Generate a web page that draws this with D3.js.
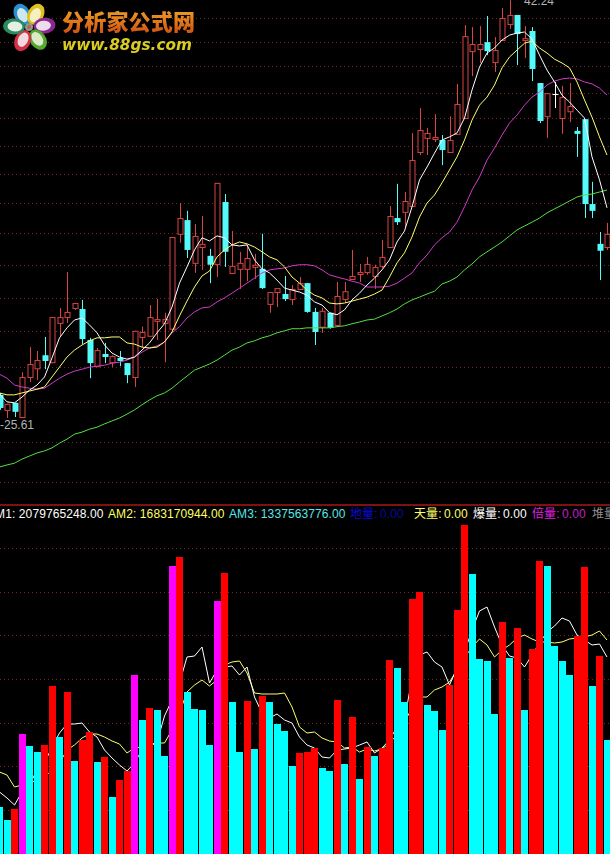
<!DOCTYPE html>
<html><head><meta charset="utf-8">
<script src="https://cdn.jsdelivr.net/npm/d3@7/dist/d3.min.js"></script>
<style>html,body{margin:0;padding:0;background:#000;overflow:hidden}svg{display:block}</style>
</head><body>
<script>
const open=[26.33,25.86,26.08,25.64,26.90,27.18,27.61,27.38,28.70,28.90,29.22,29.18,28.12,27.25,27.65,27.38,27.52,27.35,26.90,28.22,28.26,28.77,28.70,28.50,31.93,32.46,30.84,31.43,31.10,30.80,33.17,30.47,30.62,30.62,30.69,30.62,29.36,29.78,29.71,29.53,29.89,30.10,29.08,28.57,29.05,28.63,29.53,30.25,30.43,30.50,30.36,30.73,31.43,32.54,32.78,33.01,35.22,35.82,35.77,35.73,35.22,35.99,36.68,39.74,39.84,40.17,39.22,40.27,41.05,41.50,40.27,40.71,38.25,36.76,37.75,36.68,36.98,36.12,36.63,33.09,31.55,31.43];
const close=[25.92,26.05,25.80,26.90,27.32,27.45,27.42,28.90,28.90,29.08,29.39,28.15,27.35,27.78,27.55,27.58,27.42,26.96,28.43,28.39,28.90,28.83,28.83,31.81,32.54,31.32,31.85,31.55,30.77,33.94,31.25,30.73,30.84,31.02,30.77,29.92,29.78,29.92,29.53,29.89,30.10,29.08,28.39,29.12,28.53,29.64,29.81,30.36,30.50,30.80,30.69,31.06,32.62,32.38,33.21,34.88,36.16,36.03,35.86,35.30,35.73,37.30,40.46,40.08,40.08,39.74,39.79,41.35,41.50,40.56,40.36,38.90,36.55,37.79,37.75,37.61,37.21,35.99,33.09,32.82,31.29,31.93];
const high=[26.39,26.05,26.08,27.05,27.88,27.75,28.22,28.90,29.22,30.50,29.39,29.50,28.19,27.85,28.02,27.61,27.75,27.35,28.43,28.57,29.32,29.54,29.05,31.81,33.13,32.82,32.31,32.62,31.36,33.94,33.49,32.04,31.25,31.51,31.17,31.93,29.78,29.92,30.36,30.03,30.32,30.10,29.22,29.22,29.05,30.14,30.14,31.32,30.80,31.06,30.77,31.70,33.01,33.90,33.57,36.03,37.12,36.25,36.85,35.94,36.76,38.21,41.00,40.90,40.95,41.45,40.41,41.85,42.24,41.50,40.95,40.90,38.25,37.79,38.30,38.12,38.25,36.29,36.63,33.98,32.00,32.35];
const low=[25.86,25.61,25.64,25.61,26.74,26.80,27.15,27.35,28.22,28.70,29.15,27.98,26.86,27.22,27.35,27.22,27.25,26.70,26.58,27.88,28.26,28.12,27.38,28.36,31.59,31.02,30.47,30.58,30.10,30.32,30.69,30.47,29.89,30.17,30.25,29.89,29.05,29.25,29.46,29.32,29.89,29.05,27.95,28.36,28.50,28.57,29.39,30.25,30.14,30.40,29.89,30.65,31.43,32.27,32.16,33.01,35.09,35.09,35.64,34.67,35.22,35.99,36.68,38.57,39.18,39.55,38.76,40.27,40.81,39.08,39.41,38.34,36.46,35.82,37.12,35.99,36.50,35.01,32.54,32.54,30.21,31.32];
const ma5=[26.36,26.11,26.08,26.26,26.48,26.64,26.90,27.52,28.19,28.53,28.80,28.87,28.63,28.36,27.95,27.68,27.55,27.48,27.55,27.78,28.02,28.36,28.67,29.25,30.10,30.69,31.32,31.78,31.66,31.85,31.78,31.51,31.47,31.51,30.95,30.62,30.47,30.21,29.92,29.85,29.78,29.67,29.43,29.32,29.05,28.98,29.15,29.50,29.74,30.03,30.28,30.58,30.95,31.62,32.04,32.98,34.06,34.59,35.17,35.73,35.86,36.03,36.68,37.93,38.99,39.65,39.89,40.27,40.51,40.61,40.66,40.32,39.55,38.85,38.30,37.70,37.39,37.03,36.68,35.01,34.06,32.94];
const ma10=[26.39,26.33,26.33,26.39,26.45,26.51,26.58,26.90,27.22,27.55,27.78,27.95,28.09,28.19,28.19,28.22,28.22,28.02,27.98,27.88,27.85,27.88,28.05,28.39,28.94,29.46,29.96,30.36,30.54,31.06,31.32,31.51,31.62,31.55,31.43,31.25,31.06,30.95,30.69,30.32,30.10,29.85,29.67,29.57,29.39,29.36,29.39,29.46,29.53,29.60,29.71,29.85,30.32,30.84,31.21,31.81,32.58,33.13,33.45,33.94,34.47,35.01,35.73,36.59,37.25,37.61,38.16,38.95,39.46,39.79,40.12,40.22,39.89,39.65,39.36,39.18,38.95,38.30,37.48,36.72,35.86,35.09];
const ma30=[26.99,26.86,26.64,26.58,26.54,26.51,26.54,26.70,26.86,26.99,27.09,27.15,27.22,27.25,27.28,27.35,27.38,27.45,27.55,27.71,27.85,27.92,28.05,28.36,28.57,28.87,29.08,29.22,29.25,29.43,29.57,29.74,29.92,30.10,30.28,30.47,30.58,30.62,30.65,30.73,30.77,30.77,30.73,30.58,30.40,30.32,30.25,30.17,30.10,29.96,29.96,29.96,29.99,30.10,30.28,30.47,30.84,31.13,31.51,31.78,32.00,32.38,32.98,33.65,34.18,34.88,35.38,35.94,36.46,36.81,37.25,37.61,37.84,38.16,38.34,38.44,38.48,38.44,38.30,38.21,38.02,37.70];
const ma60=[24.15,24.21,24.26,24.38,24.47,24.56,24.62,24.71,24.85,24.97,25.12,25.18,25.27,25.33,25.43,25.52,25.61,25.73,25.86,26.02,26.17,26.30,26.39,26.54,26.74,26.93,27.12,27.22,27.32,27.45,27.61,27.78,27.88,28.02,28.09,28.19,28.26,28.36,28.43,28.50,28.50,28.53,28.53,28.53,28.53,28.57,28.60,28.67,28.73,28.80,28.83,28.94,29.05,29.18,29.36,29.50,29.60,29.71,29.81,30.07,30.17,30.32,30.58,30.80,31.06,31.25,31.43,31.62,31.85,32.08,32.23,32.38,32.54,32.74,32.90,33.05,33.21,33.37,33.45,33.49,33.57,33.65];
const priceGrid=[23.72,24.88,26.11,27.22,28.42,29.57,30.76,31.96,33.13,34.30,35.47,36.68,37.80,39.04,40.17,41.34];
const volume=[4.7,3.4,4.5,12.0,10.8,10.2,10.9,16.8,11.7,16.2,9.3,11.4,12.2,9.2,9.7,5.7,7.4,8.3,17.9,13.4,14.6,14.4,9.8,28.8,29.7,16.2,14.5,14.4,10.9,25.3,28.1,15.2,10.2,15.3,10.5,15.8,15.2,13.0,12.3,8.8,10.1,10.2,10.6,8.6,8.3,15.4,9.0,13.7,7.5,10.7,9.8,10.6,19.4,18.6,15.2,25.5,26.2,14.9,14.3,12.4,16.9,24.4,32.9,28.0,19.5,19.3,14.0,23.2,19.6,22.6,14.4,20.5,29.3,28.8,20.8,19.3,17.9,21.8,28.7,16.8,19.8,11.4];
const volumeKind=["c","c","r","m","c","c","r","r","c","r","c","r","r","c","r","c","r","r","m","c","r","c","c","m","r","c","c","c","c","m","r","c","c","r","c","r","c","c","c","c","r","r","r","c","c","r","c","r","c","r","c","r","r","c","c","r","r","c","c","c","r","r","r","c","c","c","c","r","c","r","c","r","r","c","c","c","c","r","r","c","r","c"];
const am1=[6.2,5.6,4.9,6.2,6.9,8.4,9.1,10.7,12.1,13.0,13.0,13.1,12.2,11.7,10.4,9.6,8.9,8.3,9.1,10.4,10.7,11.2,13.8,15.4,17.1,19.7,19.8,20.7,17.1,18.4,18.7,18.8,17.9,18.7,15.7,14.1,13.6,14.0,13.4,13.1,11.7,10.9,10.6,9.7,9.6,10.4,10.5,10.6,10.9,11.2,10.1,10.6,11.4,12.7,13.4,17.6,19.9,20.2,19.2,18.7,16.9,18.6,20.2,22.4,24.3,24.7,22.7,20.9,19.8,19.6,18.7,19.9,21.1,22.2,22.8,23.6,23.3,21.9,21.4,20.9,21.0,19.7];
const am2=[8.2,7.9,6.7,6.9,7.1,7.4,7.7,8.4,9.1,10.4,10.9,11.6,12.0,12.0,11.7,11.3,11.0,10.1,10.6,10.7,11.0,11.1,11.1,12.4,14.1,16.2,16.9,17.4,16.8,17.4,18.9,19.2,19.3,18.1,16.1,16.0,16.0,16.0,16.1,14.7,12.7,12.1,12.2,11.6,11.3,11.2,10.6,10.7,10.2,10.5,10.3,10.5,11.1,11.9,13.2,14.6,15.7,15.7,16.4,16.7,17.2,18.4,19.6,20.7,21.5,20.9,19.7,20.4,20.9,21.6,21.9,21.5,21.2,21.2,21.1,21.2,21.5,21.6,21.7,21.9,22.3,21.4];
const volumeGrid=[4.4,8.8,13.1,17.5,21.9,26.2,30.6];
const headerLabels=[
 {t:"AM1: 2079765248.00",x:-13,c:"#ffffff"},
 {t:"AM2: 1683170944.00",x:108,c:"#ffff66"},
 {t:"AM3: 1337563776.00",x:229,c:"#55e8e8"},
 {t:"地量:",x:350,c:"#0a0ad8"},{t:"0.00",x:380,c:"#08089a"},
 {t:"天量:",x:414,c:"#ffff66"},{t:"0.00",x:444,c:"#ffff66"},
 {t:"爆量:",x:473,c:"#ffffff"},{t:"0.00",x:503,c:"#ffffff"},
 {t:"倍量:",x:532,c:"#e020e0"},{t:"0.00",x:562,c:"#c020c0"},
 {t:"堆量",x:592,c:"#909090"}
];
const priceLabels=[{t:"-25.61",x:0,y:429},{t:"42.24",x:524,y:5}];

const W=610,H=854;
const svg=d3.select("body").append("svg").attr("width",W).attr("height",H).style("background","#000");
const idx=d3.range(open.length);
const x=d3.scaleBand().domain(idx).range([-4.25,610.75]);
const cx=i=>x(i)+x.bandwidth()/2;
const yP=d3.scaleLog().domain([25.61,42.25]).range([418,0]);
const yV=d3.scaleLinear().domain([0,35]).range([854,504]);

// grid
const gridColor="#6e2a22";
svg.append("g").selectAll("line").data(priceGrid).join("line")
  .attr("x1",0).attr("x2",W).attr("y1",d=>Math.round(yP(d))+.5).attr("y2",d=>Math.round(yP(d))+.5)
  .attr("stroke",gridColor).attr("stroke-dasharray","1 3");
svg.append("g").selectAll("line").data(volumeGrid).join("line")
  .attr("x1",0).attr("x2",W).attr("y1",d=>Math.round(yV(d))+.5).attr("y2",d=>Math.round(yV(d))+.5)
  .attr("stroke",gridColor).attr("stroke-dasharray","1 3");
svg.append("line").attr("x1",0).attr("x2",W).attr("y1",505).attr("y2",505).attr("stroke","#a81818").attr("stroke-width",1.5);

// candles
const red="#d94444",cyan="#55fbfb";
const col=i=>close[i]>open[i]?red:(close[i]<open[i]?cyan:"#ffffff");
const snap=v=>Math.round(v);
const cg=svg.append("g");
cg.selectAll("line").data(idx).join("line")
  .attr("x1",i=>snap(cx(i))+.5).attr("x2",i=>snap(cx(i))+.5)
  .attr("y1",i=>yP(high[i])).attr("y2",i=>yP(low[i]))
  .attr("stroke",col);
cg.selectAll("rect").data(idx).join("rect")
  .attr("x",i=>snap(cx(i))-2+(close[i]>open[i]?0:-.5))
  .attr("width",i=>close[i]>open[i]?5:6)
  .attr("y",i=>yP(Math.max(open[i],close[i]))+(close[i]>open[i]?.5:0))
  .attr("height",i=>Math.max(1,Math.abs(yP(open[i])-yP(close[i]))))
  .attr("fill",i=>close[i]>open[i]?"#000":col(i))
  .attr("stroke",i=>close[i]>open[i]?red:"none");

// moving averages
const priceLine=d3.line().x((d,i)=>cx(i)).y(d=>yP(d));
[[ma60,"#55dd44"],[ma30,"#d03cc8"],[ma10,"#ffff70"],[ma5,"#ffffff"]].forEach(([s,c])=>{
  svg.append("path").attr("d",priceLine(s)).attr("fill","none").attr("stroke",c).attr("stroke-width",1);
});

// volume lines below bars
const volLine=d3.line().x((d,i)=>cx(i)).y(d=>yV(d));
[[am2,"#ffff70"],[am1,"#ffffff"]].forEach(([s,c])=>{
  svg.append("path").attr("d",volLine(s)).attr("fill","none").attr("stroke",c).attr("stroke-width",1);
});
const kindColor={r:"#ff0000",c:"#00ffff",m:"#ff00ff"};
svg.append("g").selectAll("rect").data(idx).join("rect")
  .attr("x",i=>Math.round(cx(i)-3.5)).attr("width",7)
  .attr("y",i=>yV(volume[i])).attr("height",i=>yV(0)-yV(volume[i]))
  .attr("fill",i=>kindColor[volumeKind[i]]);

// header
const font="'Liberation Sans',Arial,'Noto Sans CJK SC',sans-serif";
svg.append("g").selectAll("text").data(headerLabels).join("text")
  .attr("x",d=>d.x).attr("y",518).text(d=>d.t).attr("fill",d=>d.c)
  .attr("font-family",font).attr("font-size",12).attr("letter-spacing",.1);
svg.append("g").selectAll("text").data(priceLabels).join("text")
  .attr("x",d=>d.x).attr("y",d=>d.y).text(d=>d.t).attr("fill","#b4b4b4")
  .attr("font-family",font).attr("font-size",12);

// logo
const defs=svg.append("defs");
const grad=defs.append("linearGradient").attr("id","lg").attr("x1",0).attr("x2",0).attr("y1",0).attr("y2",1);
grad.append("stop").attr("offset","0%").attr("stop-color","#f2b02a");
grad.append("stop").attr("offset","100%").attr("stop-color","#cf4a12");
defs.append("filter").attr("id","soft").append("feGaussianBlur").attr("stdDeviation",.45);
const petals=[
 {a:-28,c:"#2a8fd0",i:"#cfe8f0",d:14.5},
 {a:28,c:"#e0c020",i:"#f4f0c0",d:14.5},
 {a:85,c:"#8a2a90",i:"#ecdcec",d:15.5},
 {a:145,c:"#55a830",i:"#dcecc8",d:15.5},
 {a:205,c:"#d03048",i:"#f4d8dc",d:15},
 {a:272,c:"#2a8a60",i:"#e4f0e4",d:15}
];
const logo=svg.append("g").attr("transform","translate(29,27)").attr("filter","url(#soft)");
petals.forEach(p=>{
  const g=logo.append("g").attr("transform",`rotate(${p.a}) translate(0,${-p.d})`);
  g.append("ellipse").attr("rx",8).attr("ry",11).attr("fill",p.c);
  g.append("ellipse").attr("rx",5).attr("ry",7.5).attr("cy",1).attr("fill",p.i);
});
logo.append("circle").attr("r",4).attr("fill","#8a9a90");
logo.append("circle").attr("r",1.8).attr("fill","#c85a30");
svg.append("text").attr("x",62).attr("y",30).text("分析家公式网")
  .attr("fill","url(#lg)").attr("font-family","'Noto Sans CJK SC'").attr("font-weight",900)
  .attr("font-size",22).attr("textLength",133).attr("filter","url(#soft)");
svg.append("text").attr("x",62).attr("y",50).text("www.88gs.com")
  .attr("fill","#d8cc22").attr("font-family","'DejaVu Sans'").attr("font-weight",700).attr("font-style","italic")
  .attr("font-size",15.3).attr("filter","url(#soft)");
</script>
</body></html>
